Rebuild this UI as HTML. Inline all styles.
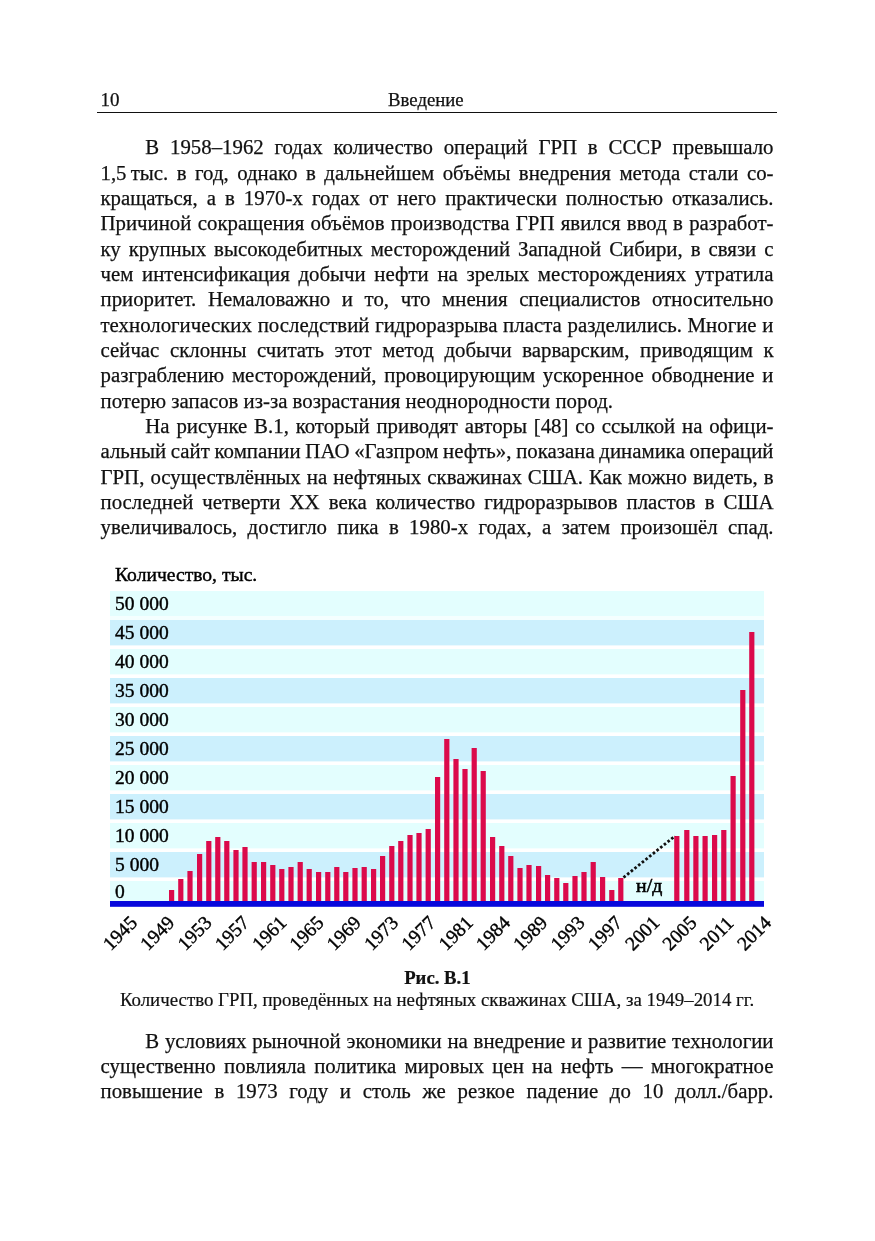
<!DOCTYPE html>
<html lang="ru"><head><meta charset="utf-8"><title>Введение</title>
<style>
html,body{margin:0;padding:0;background:#fff;}
body{width:875px;height:1241px;position:relative;overflow:hidden;font-family:"Liberation Serif",serif;color:#111;}
.ln{position:absolute;white-space:nowrap;text-align:left;-webkit-text-stroke:0.25px #111;}
.j{white-space:normal;text-align:justify;text-align-last:justify;}
.hd{-webkit-text-stroke:0.25px #111;position:absolute;font-size:18.75px;line-height:22px;white-space:nowrap;}
.rule{position:absolute;left:97px;top:111.8px;width:680px;height:1.3px;background:#111;}
.cap{-webkit-text-stroke:0.2px #111;position:absolute;left:0;width:875px;text-align:center;font-size:18.75px;line-height:22px;white-space:nowrap;}
</style></head><body>
<div class="hd" style="left:100.5px;top:88.9px;font-size:19px">10</div>
<div class="hd" style="left:388.1px;top:89.2px">Введение</div>
<div class="rule"></div>
<div class="ln" style="left:145.30px;top:135.27px;font-size:20.83px;line-height:24px;word-spacing:5.603px;">В 1958–1962 годах количество операций ГРП в СССР превышало</div>
<div class="ln" style="left:100.50px;top:160.60px;font-size:20.83px;line-height:24px;word-spacing:3.283px;">1,5 тыс. в год, однако в дальнейшем объёмы внедрения метода стали со-</div>
<div class="ln" style="left:100.50px;top:185.93px;font-size:20.83px;line-height:24px;word-spacing:3.832px;">кращаться, а в 1970-х годах от него практически полностью отказались.</div>
<div class="ln" style="left:100.50px;top:211.26px;font-size:20.83px;line-height:24px;word-spacing:1.092px;">Причиной сокращения объёмов производства ГРП явился ввод в разработ-</div>
<div class="ln" style="left:100.50px;top:236.59px;font-size:20.83px;line-height:24px;word-spacing:2.777px;">ку крупных высокодебитных месторождений Западной Сибири, в связи с</div>
<div class="ln" style="left:100.50px;top:261.92px;font-size:20.83px;line-height:24px;word-spacing:3.453px;">чем интенсификация добычи нефти на зрелых месторождениях утратила</div>
<div class="ln" style="left:100.50px;top:287.25px;font-size:20.83px;line-height:24px;word-spacing:6.424px;">приоритет. Немаловажно и то, что мнения специалистов относительно</div>
<div class="ln" style="left:100.50px;top:312.58px;font-size:20.83px;line-height:24px;word-spacing:0.529px;">технологических последствий гидроразрыва пласта разделились. Многие и</div>
<div class="ln" style="left:100.50px;top:337.91px;font-size:20.83px;line-height:24px;word-spacing:5.352px;">сейчас склонны считать этот метод добычи варварским, приводящим к</div>
<div class="ln" style="left:100.50px;top:363.24px;font-size:20.83px;line-height:24px;word-spacing:2.528px;">разграблению месторождений, провоцирующим ускоренное обводнение и</div>
<div class="ln" style="left:100.50px;top:388.57px;font-size:20.83px;line-height:24px;word-spacing:0.000px;">потерю запасов из-за возрастания неоднородности пород.</div>
<div class="ln" style="left:145.30px;top:413.90px;font-size:20.83px;line-height:24px;word-spacing:1.595px;">На рисунке В.1, который приводят авторы [48] со ссылкой на офици-</div>
<div class="ln" style="left:100.50px;top:439.23px;font-size:20.83px;line-height:24px;word-spacing:-0.480px;">альный сайт компании ПАО «Газпром нефть», показана динамика операций</div>
<div class="ln" style="left:100.50px;top:464.56px;font-size:20.83px;line-height:24px;word-spacing:0.807px;">ГРП, осуществлённых на нефтяных скважинах США. Как можно видеть, в</div>
<div class="ln" style="left:100.50px;top:489.89px;font-size:20.83px;line-height:24px;word-spacing:3.824px;">последней четверти XX века количество гидроразрывов пластов в США</div>
<div class="ln" style="left:100.50px;top:515.22px;font-size:20.83px;line-height:24px;word-spacing:5.120px;">увеличивалось, достигло пика в 1980-х годах, а затем произошёл спад.</div>
<div class="ln" style="left:145.30px;top:1028.57px;font-size:20.83px;line-height:24px;word-spacing:0.546px;">В условиях рыночной экономики на внедрение и развитие технологии</div>
<div class="ln" style="left:100.50px;top:1053.87px;font-size:20.83px;line-height:24px;word-spacing:3.084px;">существенно повлияла политика мировых цен на нефть — многократное</div>
<div class="ln" style="left:100.50px;top:1079.17px;font-size:20.83px;line-height:24px;word-spacing:6.494px;">повышение в 1973 году и столь же резкое падение до 10 долл./барр.</div>
<svg width="875" height="1241" viewBox="0 0 875 1241" style="position:absolute;left:0;top:0">
<rect x="110" y="591.0" width="654" height="25.4" fill="#e3fefe"/>
<rect x="110" y="616.4" width="654" height="3.6" fill="#f4ffff"/>
<rect x="110" y="620.0" width="654" height="25.4" fill="#ccf0fd"/>
<rect x="110" y="649.0" width="654" height="25.4" fill="#e3fefe"/>
<rect x="110" y="678.0" width="654" height="25.4" fill="#ccf0fd"/>
<rect x="110" y="707.0" width="654" height="25.4" fill="#e3fefe"/>
<rect x="110" y="736.0" width="654" height="25.4" fill="#ccf0fd"/>
<rect x="110" y="765.0" width="654" height="25.4" fill="#e3fefe"/>
<rect x="110" y="794.0" width="654" height="25.4" fill="#ccf0fd"/>
<rect x="110" y="823.0" width="654" height="25.4" fill="#e3fefe"/>
<rect x="110" y="852.0" width="654" height="25.4" fill="#ccf0fd"/>
<rect x="110" y="881.0" width="654" height="25.4" fill="#e3fefe"/>
<rect x="169.0" y="890" width="5.2" height="12" fill="#db0a4b"/>
<rect x="178.2" y="879" width="5.2" height="23" fill="#db0a4b"/>
<rect x="187.4" y="871" width="5.2" height="31" fill="#db0a4b"/>
<rect x="197.0" y="854" width="5.2" height="48" fill="#db0a4b"/>
<rect x="206.2" y="841" width="5.2" height="61" fill="#db0a4b"/>
<rect x="215.2" y="837" width="5.2" height="65" fill="#db0a4b"/>
<rect x="224.2" y="841" width="5.2" height="61" fill="#db0a4b"/>
<rect x="233.4" y="850" width="5.2" height="52" fill="#db0a4b"/>
<rect x="242.4" y="847" width="5.2" height="55" fill="#db0a4b"/>
<rect x="251.6" y="862" width="5.2" height="40" fill="#db0a4b"/>
<rect x="261.0" y="862" width="5.2" height="40" fill="#db0a4b"/>
<rect x="270.2" y="865" width="5.2" height="37" fill="#db0a4b"/>
<rect x="279.2" y="869" width="5.2" height="33" fill="#db0a4b"/>
<rect x="288.4" y="867" width="5.2" height="35" fill="#db0a4b"/>
<rect x="297.6" y="862" width="5.2" height="40" fill="#db0a4b"/>
<rect x="306.6" y="869" width="5.2" height="33" fill="#db0a4b"/>
<rect x="316.0" y="872" width="5.2" height="30" fill="#db0a4b"/>
<rect x="325.2" y="872" width="5.2" height="30" fill="#db0a4b"/>
<rect x="334.2" y="867" width="5.2" height="35" fill="#db0a4b"/>
<rect x="343.2" y="872" width="5.2" height="30" fill="#db0a4b"/>
<rect x="352.4" y="868" width="5.2" height="34" fill="#db0a4b"/>
<rect x="361.6" y="867" width="5.2" height="35" fill="#db0a4b"/>
<rect x="371.0" y="869" width="5.2" height="33" fill="#db0a4b"/>
<rect x="380.0" y="856" width="5.2" height="46" fill="#db0a4b"/>
<rect x="389.2" y="846" width="5.2" height="56" fill="#db0a4b"/>
<rect x="398.2" y="841" width="5.2" height="61" fill="#db0a4b"/>
<rect x="407.4" y="835" width="5.2" height="67" fill="#db0a4b"/>
<rect x="416.4" y="833" width="5.2" height="69" fill="#db0a4b"/>
<rect x="425.6" y="829" width="5.2" height="73" fill="#db0a4b"/>
<rect x="435.0" y="777" width="5.2" height="125" fill="#db0a4b"/>
<rect x="444.2" y="739" width="5.2" height="163" fill="#db0a4b"/>
<rect x="453.4" y="759" width="5.2" height="143" fill="#db0a4b"/>
<rect x="462.4" y="769" width="5.2" height="133" fill="#db0a4b"/>
<rect x="471.6" y="748" width="5.2" height="154" fill="#db0a4b"/>
<rect x="480.6" y="771" width="5.2" height="131" fill="#db0a4b"/>
<rect x="490.0" y="837" width="5.2" height="65" fill="#db0a4b"/>
<rect x="499.2" y="846" width="5.2" height="56" fill="#db0a4b"/>
<rect x="508.2" y="856" width="5.2" height="46" fill="#db0a4b"/>
<rect x="517.4" y="868" width="5.2" height="34" fill="#db0a4b"/>
<rect x="526.4" y="865" width="5.2" height="37" fill="#db0a4b"/>
<rect x="536.0" y="866" width="5.2" height="36" fill="#db0a4b"/>
<rect x="545.0" y="875" width="5.2" height="27" fill="#db0a4b"/>
<rect x="554.2" y="878" width="5.2" height="24" fill="#db0a4b"/>
<rect x="563.2" y="883" width="5.2" height="19" fill="#db0a4b"/>
<rect x="572.4" y="876" width="5.2" height="26" fill="#db0a4b"/>
<rect x="581.4" y="872" width="5.2" height="30" fill="#db0a4b"/>
<rect x="590.6" y="862" width="5.2" height="40" fill="#db0a4b"/>
<rect x="600.0" y="877" width="5.2" height="25" fill="#db0a4b"/>
<rect x="609.2" y="890" width="5.2" height="12" fill="#db0a4b"/>
<rect x="618.2" y="878" width="5.2" height="24" fill="#db0a4b"/>
<rect x="674.2" y="836" width="5.2" height="66" fill="#db0a4b"/>
<rect x="684.2" y="830" width="5.2" height="72" fill="#db0a4b"/>
<rect x="693.3" y="836" width="5.2" height="66" fill="#db0a4b"/>
<rect x="702.5" y="836" width="5.2" height="66" fill="#db0a4b"/>
<rect x="712.0" y="835" width="5.2" height="67" fill="#db0a4b"/>
<rect x="721.2" y="830" width="5.2" height="72" fill="#db0a4b"/>
<rect x="730.5" y="776" width="5.2" height="126" fill="#db0a4b"/>
<rect x="740.2" y="690" width="5.2" height="212" fill="#db0a4b"/>
<rect x="749.2" y="632" width="5.2" height="270" fill="#db0a4b"/>
<rect x="110" y="901" width="654" height="5.8" fill="#0808dc"/>
<line x1="623.5" y1="877.5" x2="675" y2="836" stroke="#111" stroke-width="2.8" stroke-dasharray="2.6 2.12"/>
<text x="115" y="580.6" style="font-family:'Liberation Serif',serif;stroke:#000;stroke-width:0.4px;font-size:19.6px" fill="#000">Количество, тыс.</text>
<text x="115" y="609.6" style="font-family:'Liberation Serif',serif;stroke:#000;stroke-width:0.4px;font-size:19.5px" fill="#000">50 000</text>
<text x="115" y="638.6" style="font-family:'Liberation Serif',serif;stroke:#000;stroke-width:0.4px;font-size:19.5px" fill="#000">45 000</text>
<text x="115" y="667.6" style="font-family:'Liberation Serif',serif;stroke:#000;stroke-width:0.4px;font-size:19.5px" fill="#000">40 000</text>
<text x="115" y="696.6" style="font-family:'Liberation Serif',serif;stroke:#000;stroke-width:0.4px;font-size:19.5px" fill="#000">35 000</text>
<text x="115" y="725.6" style="font-family:'Liberation Serif',serif;stroke:#000;stroke-width:0.4px;font-size:19.5px" fill="#000">30 000</text>
<text x="115" y="754.6" style="font-family:'Liberation Serif',serif;stroke:#000;stroke-width:0.4px;font-size:19.5px" fill="#000">25 000</text>
<text x="115" y="783.6" style="font-family:'Liberation Serif',serif;stroke:#000;stroke-width:0.4px;font-size:19.5px" fill="#000">20 000</text>
<text x="115" y="812.6" style="font-family:'Liberation Serif',serif;stroke:#000;stroke-width:0.4px;font-size:19.5px" fill="#000">15 000</text>
<text x="115" y="841.6" style="font-family:'Liberation Serif',serif;stroke:#000;stroke-width:0.4px;font-size:19.5px" fill="#000">10 000</text>
<text x="115" y="870.6" style="font-family:'Liberation Serif',serif;stroke:#000;stroke-width:0.4px;font-size:19.5px" fill="#000">5 000</text>
<text x="115" y="897.8" style="font-family:'Liberation Serif',serif;stroke:#000;stroke-width:0.4px;font-size:19.5px" fill="#000">0</text>
<text x="636.1" y="892.2" style="font-family:'Liberation Serif',serif;stroke:#000;stroke-width:0.4px;font-size:19.8px;stroke-width:0.6px" fill="#000">н/д</text>
<text transform="translate(110.8,951.5) rotate(-45)" style="font-family:'Liberation Serif',serif;stroke:#000;stroke-width:0.4px;font-size:19.5px" fill="#000">1945</text>
<text transform="translate(148.1,951.5) rotate(-45)" style="font-family:'Liberation Serif',serif;stroke:#000;stroke-width:0.4px;font-size:19.5px" fill="#000">1949</text>
<text transform="translate(185.4,951.5) rotate(-45)" style="font-family:'Liberation Serif',serif;stroke:#000;stroke-width:0.4px;font-size:19.5px" fill="#000">1953</text>
<text transform="translate(222.7,951.5) rotate(-45)" style="font-family:'Liberation Serif',serif;stroke:#000;stroke-width:0.4px;font-size:19.5px" fill="#000">1957</text>
<text transform="translate(260.0,951.5) rotate(-45)" style="font-family:'Liberation Serif',serif;stroke:#000;stroke-width:0.4px;font-size:19.5px" fill="#000">1961</text>
<text transform="translate(297.3,951.5) rotate(-45)" style="font-family:'Liberation Serif',serif;stroke:#000;stroke-width:0.4px;font-size:19.5px" fill="#000">1965</text>
<text transform="translate(334.6,951.5) rotate(-45)" style="font-family:'Liberation Serif',serif;stroke:#000;stroke-width:0.4px;font-size:19.5px" fill="#000">1969</text>
<text transform="translate(371.9,951.5) rotate(-45)" style="font-family:'Liberation Serif',serif;stroke:#000;stroke-width:0.4px;font-size:19.5px" fill="#000">1973</text>
<text transform="translate(409.2,951.5) rotate(-45)" style="font-family:'Liberation Serif',serif;stroke:#000;stroke-width:0.4px;font-size:19.5px" fill="#000">1977</text>
<text transform="translate(446.5,951.5) rotate(-45)" style="font-family:'Liberation Serif',serif;stroke:#000;stroke-width:0.4px;font-size:19.5px" fill="#000">1981</text>
<text transform="translate(483.8,951.5) rotate(-45)" style="font-family:'Liberation Serif',serif;stroke:#000;stroke-width:0.4px;font-size:19.5px" fill="#000">1984</text>
<text transform="translate(521.1,951.5) rotate(-45)" style="font-family:'Liberation Serif',serif;stroke:#000;stroke-width:0.4px;font-size:19.5px" fill="#000">1989</text>
<text transform="translate(558.4,951.5) rotate(-45)" style="font-family:'Liberation Serif',serif;stroke:#000;stroke-width:0.4px;font-size:19.5px" fill="#000">1993</text>
<text transform="translate(595.7,951.5) rotate(-45)" style="font-family:'Liberation Serif',serif;stroke:#000;stroke-width:0.4px;font-size:19.5px" fill="#000">1997</text>
<text transform="translate(633.0,951.5) rotate(-45)" style="font-family:'Liberation Serif',serif;stroke:#000;stroke-width:0.4px;font-size:19.5px" fill="#000">2001</text>
<text transform="translate(670.3,951.5) rotate(-45)" style="font-family:'Liberation Serif',serif;stroke:#000;stroke-width:0.4px;font-size:19.5px" fill="#000">2005</text>
<text transform="translate(707.6,951.5) rotate(-45)" style="font-family:'Liberation Serif',serif;stroke:#000;stroke-width:0.4px;font-size:19.5px" fill="#000">2011</text>
<text transform="translate(744.9,951.5) rotate(-45)" style="font-family:'Liberation Serif',serif;stroke:#000;stroke-width:0.4px;font-size:19.5px" fill="#000">2014</text>
</svg>
<div class="cap" style="top:966.6px;font-weight:bold;left:-0.1px">Рис. В.1</div>
<div class="cap" style="top:988.5px;left:-0.5px;font-size:18.87px">Количество ГРП, проведённых на нефтяных скважинах США, за 1949–2014 гг.</div>
</body></html>
